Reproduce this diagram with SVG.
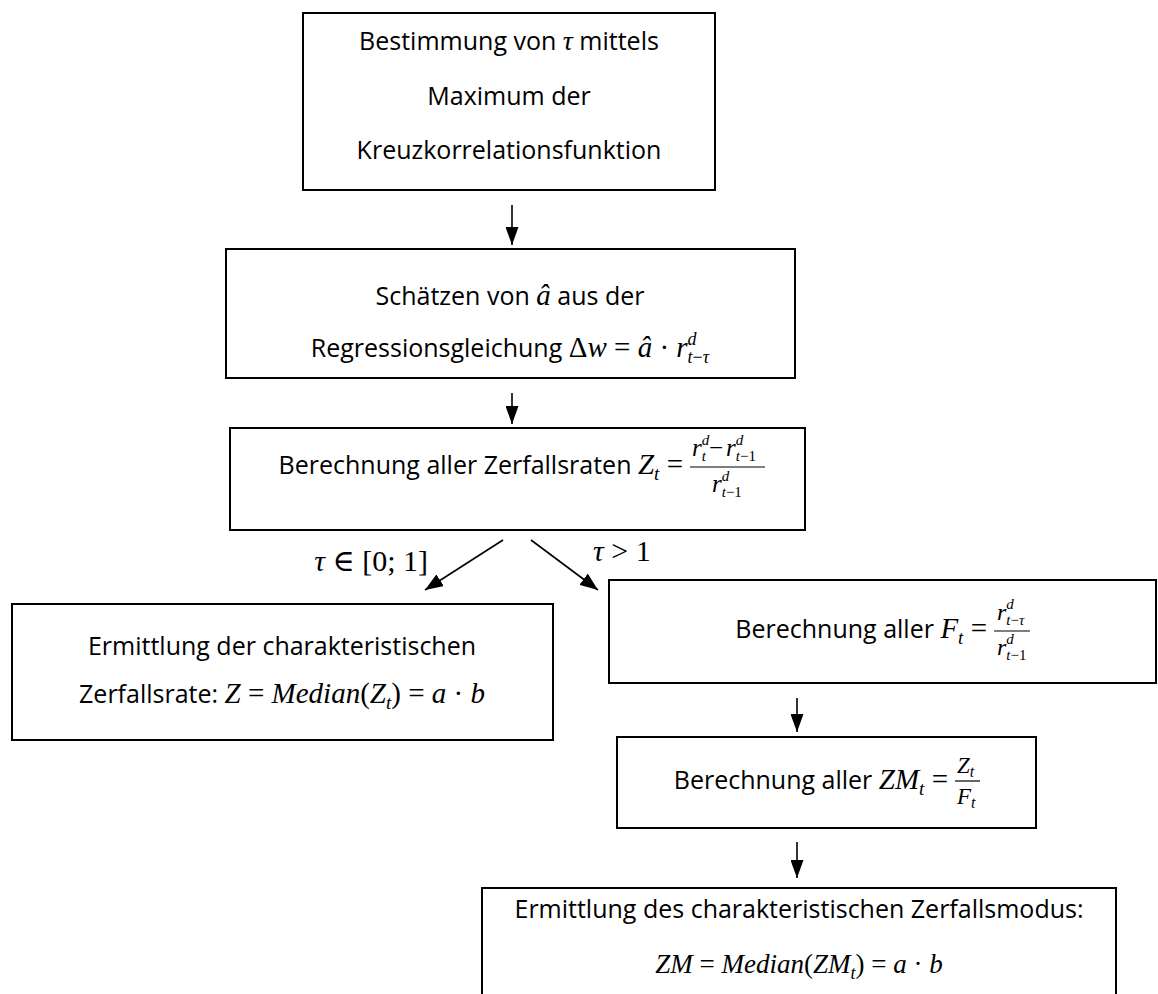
<svg xmlns="http://www.w3.org/2000/svg" width="1158" height="994" viewBox="0 0 1158 994">
<defs>
<style>
.box{fill:#fff;stroke:#000;stroke-width:2}
.t{font-family:"Open Sans","Liberation Sans",sans-serif;font-size:25px;fill:#000}
.m{font-family:"Liberation Serif","DejaVu Serif",serif;font-style:italic}
.u{font-family:"Liberation Serif","DejaVu Serif",serif;font-style:normal}
.fb{stroke:#000;stroke-width:1.2}
.c{stroke:#000;stroke-width:1.6;fill:none}
</style>
<marker id="ah" viewBox="0 0 18 13" refX="18" refY="6.5" markerWidth="18" markerHeight="13" markerUnits="userSpaceOnUse" orient="auto">
<path d="M0,0 L18,6.5 L0,13 Z" fill="#000"/>
</marker>
<marker id="ahb" viewBox="0 0 18 14" refX="18" refY="7" markerWidth="18" markerHeight="14" markerUnits="userSpaceOnUse" orient="auto">
<path d="M0,0 L18,7 L0,14 Z" fill="#000"/>
</marker>
</defs>
<rect width="1158" height="994" fill="#fff"/>

<g id="n1">
<rect class="box" x="303" y="13" width="412" height="177"/>
<text class="t" x="509" y="50" text-anchor="middle">Bestimmung von <tspan class="m" font-size="28">τ</tspan> mittels</text>
<text class="t" x="509" y="105" text-anchor="middle">Maximum der</text>
<text class="t" x="509" y="159" text-anchor="middle">Kreuzkorrelationsfunktion</text>
</g>

<g id="n2">
<rect class="box" x="226" y="249" width="569" height="129"/>
<text class="t" x="510" y="305" text-anchor="middle">Schätzen von <tspan class="m" font-size="29">â</tspan> aus der</text>
<text class="t" x="510" y="357" text-anchor="middle">Regressionsgleichung <tspan class="u" font-size="29">Δ</tspan><tspan class="m" font-size="29">w</tspan><tspan class="u" font-size="29"> = </tspan><tspan class="m" font-size="29">â</tspan><tspan class="u" font-size="29"> · </tspan><tspan class="m" font-size="29">r</tspan><tspan class="m" font-size="18" dy="-12">d</tspan><tspan class="m" font-size="18" dx="-9" dy="18">t</tspan><tspan class="u" font-size="18">−</tspan><tspan class="m" font-size="18">τ</tspan></text>
</g>

<g id="n3">
<rect class="box" x="230" y="428" width="575" height="102"/>
<text class="t" x="683" y="474" text-anchor="end">Berechnung aller Zerfallsraten <tspan class="m" font-size="29">Z</tspan><tspan class="m" font-size="19" dy="6">t</tspan><tspan class="u" font-size="29" dy="-6"> =</tspan></text>
<line class="fb" x1="690" y1="467" x2="765" y2="467"/>
<text x="692" y="456"><tspan class="m" font-size="25">r</tspan><tspan class="m" font-size="15" dy="-11">d</tspan><tspan class="m" font-size="15" dx="-7.5" dy="16">t</tspan><tspan class="u" font-size="25" dx="3" dy="-5">−</tspan><tspan class="m" font-size="25" dx="3">r</tspan><tspan class="m" font-size="15" dy="-11">d</tspan><tspan class="m" font-size="15" dx="-7.5" dy="16">t</tspan><tspan class="u" font-size="15">−1</tspan></text>
<text x="712" y="492"><tspan class="m" font-size="25">r</tspan><tspan class="m" font-size="15" dy="-11">d</tspan><tspan class="m" font-size="15" dx="-7.5" dy="16">t</tspan><tspan class="u" font-size="15">−1</tspan></text>
</g>

<g id="n4">
<rect class="box" x="12" y="604" width="541" height="136"/>
<text class="t" x="282" y="655" text-anchor="middle">Ermittlung der charakteristischen</text>
<text class="t" x="282" y="703" text-anchor="middle">Zerfallsrate: <tspan class="m" font-size="29">Z</tspan><tspan class="u" font-size="29"> = </tspan><tspan class="m" font-size="29">Median</tspan><tspan class="u" font-size="29">(</tspan><tspan class="m" font-size="29">Z</tspan><tspan class="m" font-size="19" dy="6">t</tspan><tspan class="u" font-size="29" dy="-6">) = </tspan><tspan class="m" font-size="29">a</tspan><tspan class="u" font-size="29"> · </tspan><tspan class="m" font-size="29">b</tspan></text>
</g>

<g id="n5">
<rect class="box" x="609" y="580" width="547" height="103"/>
<text class="t" x="987" y="638" text-anchor="end">Berechnung aller <tspan class="m" font-size="29">F</tspan><tspan class="m" font-size="19" dy="6">t</tspan><tspan class="u" font-size="29" dy="-6"> =</tspan></text>
<line class="fb" x1="994" y1="631" x2="1030" y2="631"/>
<text x="997" y="620"><tspan class="m" font-size="24">r</tspan><tspan class="m" font-size="15" dy="-11">d</tspan><tspan class="m" font-size="15" dx="-7.5" dy="16">t</tspan><tspan class="u" font-size="15">−</tspan><tspan class="m" font-size="15">τ</tspan></text>
<text x="997" y="655"><tspan class="m" font-size="24">r</tspan><tspan class="m" font-size="15" dy="-11">d</tspan><tspan class="m" font-size="15" dx="-7.5" dy="16">t</tspan><tspan class="u" font-size="15">−1</tspan></text>
</g>

<g id="n6">
<rect class="box" x="617" y="737" width="419" height="91"/>
<text class="t" x="948" y="789" text-anchor="end">Berechnung aller <tspan class="m" font-size="29">ZM</tspan><tspan class="m" font-size="19" dy="6">t</tspan><tspan class="u" font-size="29" dy="-6"> =</tspan></text>
<line class="fb" x1="955" y1="781" x2="980" y2="781"/>
<text x="957" y="773"><tspan class="m" font-size="23">Z</tspan><tspan class="m" font-size="16" dy="4">t</tspan></text>
<text x="957" y="804"><tspan class="m" font-size="23">F</tspan><tspan class="m" font-size="16" dy="4">t</tspan></text>
</g>

<g id="n7">
<path class="box" d="M482,996 V888 H1116 V996"/>
<text class="t" x="799" y="918" text-anchor="middle" font-size="26">Ermittlung des charakteristischen Zerfallsmodus:</text>
<text class="t" x="799" y="973" text-anchor="middle"><tspan class="m" font-size="27">ZM</tspan><tspan class="u" font-size="27"> = </tspan><tspan class="m" font-size="27">Median</tspan><tspan class="u" font-size="27">(</tspan><tspan class="m" font-size="27">ZM</tspan><tspan class="m" font-size="18" dy="6">t</tspan><tspan class="u" font-size="27" dy="-6">) = </tspan><tspan class="m" font-size="27">a</tspan><tspan class="u" font-size="27"> · </tspan><tspan class="m" font-size="27">b</tspan></text>
</g>

<g id="connectors">
<line class="c" x1="512" y1="205" x2="512" y2="245" marker-end="url(#ah)"/>
<line class="c" x1="512" y1="393" x2="512" y2="424" marker-end="url(#ah)"/>
<line class="c" x1="503" y1="540" x2="425" y2="590" marker-end="url(#ahb)"/>
<line class="c" x1="531" y1="540" x2="598" y2="590" marker-end="url(#ahb)"/>
<line class="c" x1="797" y1="698" x2="797" y2="732" marker-end="url(#ah)"/>
<line class="c" x1="797" y1="842" x2="797" y2="878" marker-end="url(#ah)"/>
<text class="u" x="428" y="571" font-size="30" text-anchor="end"><tspan class="m">τ</tspan> ∈ [0; 1]</text>
<text class="u" x="593" y="561" font-size="30"><tspan class="m">τ</tspan> &gt; 1</text>
</g>
</svg>
